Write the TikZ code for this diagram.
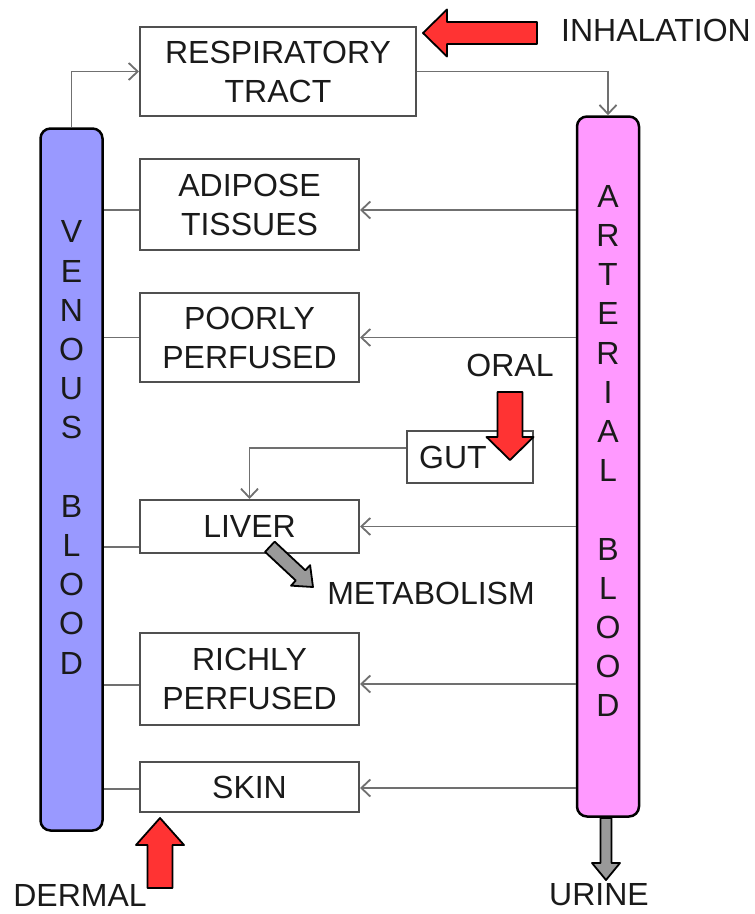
\documentclass[tikz,border=0pt]{standalone}
\usepackage{fontspec}
\setmainfont{Liberation Sans}
\usetikzlibrary{arrows.meta}
\definecolor{venousblue}{HTML}{9999FF}
\definecolor{arterialpink}{HTML}{FF99FF}
\definecolor{routered}{HTML}{FF3333}
\definecolor{arrowgray}{HTML}{999999}
\definecolor{linegray}{HTML}{707070}
\definecolor{boxgray}{HTML}{505050}
\definecolor{textdark}{HTML}{1A1A1A}
\tikzset{
  organ/.style={draw=boxgray, line width=2pt, minimum width=219pt, align=center, inner sep=0pt, text=textdark},
  blood/.style={draw=black, line width=2.5pt, rounded corners=10pt, minimum width=62pt},
  letters/.style={align=center, inner sep=0pt, text=textdark, font=\fontsize{32}{39.2}\selectfont},
  flow/.style={draw=linegray, line width=1.8pt, -{Straight Barb[length=9pt,width=17pt]}},
  link/.style={draw=linegray, line width=1.8pt},
  route/.style={text=textdark, inner sep=0pt},
  pics/fatarrow/.style n args={5}{code={
    \filldraw[fill=#5, draw=black, line width=1.8pt, line join=round]
      (0,0) -- (-#2,#3) -- (-#2,#4) -- (-#1,#4) -- (-#1,-#4) -- (-#2,-#4) -- (-#2,-#3) -- cycle;
  }},
}
\begin{document}
\begin{tikzpicture}[x=1pt,y=-1pt,font=\fontsize{32}{39}\selectfont]
\useasboundingbox (0,0) rectangle (755,914);
% blood compartments
\pic[rotate=-90] at (606,880) {fatarrow={62}{17}{14}{5.5}{arrowgray}};
\node[blood, fill=venousblue, minimum height=702pt] (venous) at (71.5,479.5) {};
\node[blood, fill=arterialpink, minimum height=700pt] (arterial) at (608,466.5) {};
\node[letters] (venouslbl) at (71.5,447.5) {V\\E\\N\\O\\U\\S\\\mbox{}\\B\\L\\O\\O\\D};
\node[letters] (arteriallbl) at (608,451) {A\\R\\T\\E\\R\\I\\A\\L\\\mbox{}\\B\\L\\O\\O\\D};
% organs
\node[organ, minimum width=276pt, minimum height=89pt] (resp) at (278,71.5) {RESPIRATORY\\TRACT};
\node[organ, minimum height=91pt] (adipose) at (249.5,204.5) {ADIPOSE\\TISSUES};
\node[organ, minimum height=89pt] (poorly) at (249.5,337.5) {POORLY\\PERFUSED};
\node[organ, minimum width=126pt, minimum height=52pt] (gut) at (470,457) {GUT\hspace*{34pt}};
\node[organ, minimum height=53pt] (liver) at (249.5,526.5) {LIVER};
\node[organ, minimum height=92pt] (richly) at (249.5,679) {RICHLY\\PERFUSED};
\node[organ, minimum height=50pt] (skin) at (249.5,787) {SKIN};
% ports off centre
\coordinate (adiposeR) at ([yshift=-5.5pt]adipose.east);
\coordinate (adiposeL) at ([yshift=-5.5pt]adipose.west);
\coordinate (liverL) at ([yshift=-20.5pt]liver.west);
\coordinate (gutL) at ([yshift=9pt]gut.west);
\coordinate (richlyR) at ([yshift=-5pt]richly.east);
\coordinate (richlyL) at ([yshift=-6pt]richly.west);
\coordinate (skinR) at ([yshift=-1pt]skin.east);
\coordinate (skinL) at ([yshift=-2pt]skin.west);
% flows
\draw[flow] (venous.north) |- (resp.west);
\draw[flow] (resp.east) -| (arterial.north);
\draw[flow] (arterial.west |- adiposeR) -- (adiposeR);
\draw[flow] (arterial.west |- poorly.east) -- (poorly.east);
\draw[flow] (arterial.west |- liver.east) -- (liver.east);
\draw[flow] (arterial.west |- richlyR) -- (richlyR);
\draw[flow] (arterial.west |- skinR) -- (skinR);
\draw[flow] (gutL) -| (liver.north);
\draw[link] (adiposeL) -- (venous.east |- adiposeL);
\draw[link] (poorly.west) -- (venous.east |- poorly.west);
\draw[link] (liverL) -- (venous.east |- liverL);
\draw[link] (richlyL) -- (venous.east |- richlyL);
\draw[link] (skinL) -- (venous.east |- skinL);
% exposure routes
\pic[rotate=180] at (423,33) {fatarrow={114}{24}{23.5}{11}{routered}};
\pic[rotate=-90] at (510,460) {fatarrow={68}{23}{23.5}{12.5}{routered}};
\pic[rotate=90] at (160,818) {fatarrow={70}{27}{24}{12.5}{routered}};
\pic[rotate=-43] at (313,587) {fatarrow={59}{17}{14}{7}{arrowgray}};
\node[route] (inhalation) at (656,30) {INHALATION};
\node[route] (oral) at (510,365) {ORAL};
\node[route] (metabolism) at (431,593) {METABOLISM};
\node[route] (dermal) at (80,895) {DERMAL};
\node[route] (urine) at (599,895) {URINE};
\end{tikzpicture}
\end{document}
